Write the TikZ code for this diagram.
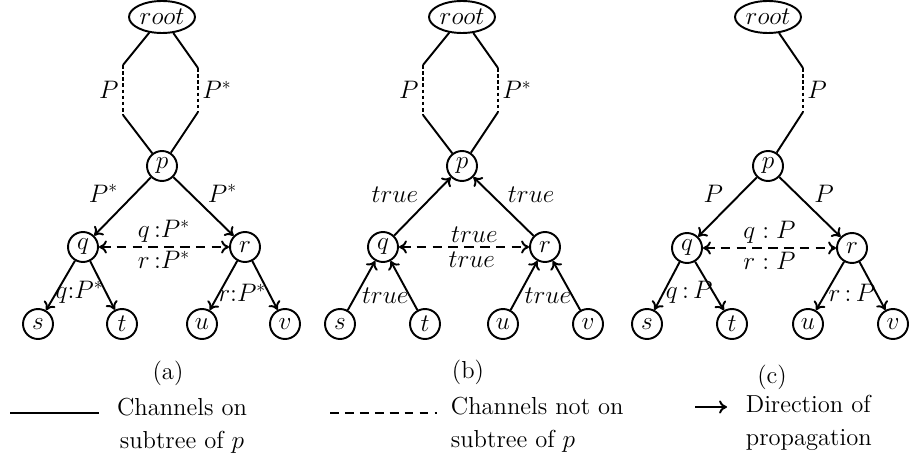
\documentclass[tikz,border=0pt]{standalone}
\usetikzlibrary{shapes.geometric,arrows.meta}
\begin{document}
\begin{tikzpicture}[x=0.02cm,y=-0.02cm,
  vert/.style={circle,draw,line width=1.1pt,minimum size=0.6cm,inner sep=0pt,font=\fontsize{14}{16}\selectfont},
  top/.style={ellipse,draw,line width=1.1pt,minimum width=1.32cm,minimum height=0.64cm,inner sep=0pt,font=\fontsize{14}{16}\selectfont},
  chan/.style={line width=1.1pt},
  gap/.style={line width=1.1pt,dash pattern=on 2pt off 1.5pt},
  side/.style={line width=1.1pt,dash pattern=on 5.5pt off 3.5pt},
  lbl/.style={font=\fontsize{14}{16}\selectfont,inner sep=2pt},
  legend/.style={font=\fontsize{14}{18.5}\selectfont,inner sep=2pt},
  >={To[length=4.5pt,width=7.5pt]}]
\useasboundingbox (0,0) rectangle (909,459);

% (a)
\node[top] (root-a) at (162,17) {$root$};
\node[vert] (p-a) at (162,166) {$p$};
\node[vert] (q-a) at (83,247) {$q$};
\node[vert] (r-a) at (245,247) {$r$};
\node[vert] (s-a) at (38,324) {$s$};
\node[vert] (t-a) at (122,324) {$t$};
\node[vert] (u-a) at (202,324) {$u$};
\node[vert] (v-a) at (285,324) {$v$};
\coordinate (l1-a) at (123,65); \coordinate (l2-a) at (123,115);
\coordinate (k1-a) at (198,68); \coordinate (k2-a) at (198,112);
\draw[chan] (root-a) -- (l1-a);
\draw[gap] (l1-a) -- node[lbl,left]{$P$} (l2-a);
\draw[chan] (l2-a) -- (p-a);
\draw[chan] (root-a) -- (k1-a);
\draw[gap] (k1-a) -- node[lbl,right]{$P^*$} (k2-a);
\draw[chan] (k2-a) -- (p-a);
\draw[chan,->] (p-a) -- node[lbl,above left]{$P^*$} (q-a);
\draw[chan,->] (p-a) -- node[lbl,above right]{$P^*$} (r-a);
\draw[side,<->] (q-a) -- node[lbl,above]{$q\,{:}P^*$} node[lbl,below]{$r\,{:}P^*$} (r-a);
\draw[chan,->] (q-a) -- (s-a);
\draw[chan,->] (q-a) -- node[lbl,left,pos=0.65,inner sep=1pt]{$q{:}P^*$} (t-a);
\draw[chan,->] (r-a) -- (u-a);
\draw[chan,->] (r-a) -- node[lbl,left,pos=0.65,inner sep=1pt]{$r{:}P^*$} (v-a);

% (b)
\node[top] (root-b) at (462,17) {$root$};
\node[vert] (p-b) at (462,166) {$p$};
\node[vert] (q-b) at (383,247) {$q$};
\node[vert] (r-b) at (545,247) {$r$};
\node[vert] (s-b) at (340,324) {$s$};
\node[vert] (t-b) at (425,324) {$t$};
\node[vert] (u-b) at (503,324) {$u$};
\node[vert] (v-b) at (588,324) {$v$};
\coordinate (l1-b) at (423,65); \coordinate (l2-b) at (423,115);
\coordinate (k1-b) at (498,68); \coordinate (k2-b) at (498,112);
\draw[chan] (root-b) -- (l1-b);
\draw[gap] (l1-b) -- node[lbl,left]{$P$} (l2-b);
\draw[chan] (l2-b) -- (p-b);
\draw[chan] (root-b) -- (k1-b);
\draw[gap] (k1-b) -- node[lbl,right]{$P^*$} (k2-b);
\draw[chan] (k2-b) -- (p-b);
\draw[chan,->] (q-b) -- node[lbl,above left]{$true$} (p-b);
\draw[chan,->] (r-b) -- node[lbl,above right]{$true$} (p-b);
\draw[side,<->] (q-b) -- node[lbl,above,pos=0.58]{$true$} node[lbl,below,pos=0.56]{$true$} (r-b);
\draw[chan,->] (s-b) -- (q-b);
\draw[chan,->] (t-b) -- node[lbl,left,pos=0.3,inner sep=0pt]{$true$} (q-b);
\draw[chan,->] (u-b) -- (r-b);
\draw[chan,->] (v-b) -- node[lbl,left,pos=0.3,inner sep=0pt]{$true$} (r-b);

% (c)
\node[top] (root-c) at (768,17) {$root$};
\node[vert] (p-c) at (768,166) {$p$};
\node[vert] (q-c) at (687,248) {$q$};
\node[vert] (r-c) at (852,248) {$r$};
\node[vert] (s-c) at (647,324) {$s$};
\node[vert] (t-c) at (732,324) {$t$};
\node[vert] (u-c) at (808,324) {$u$};
\node[vert] (v-c) at (893,324) {$v$};
\coordinate (k1-c) at (803,68); \coordinate (k2-c) at (803,112);
\draw[chan] (root-c) -- (k1-c);
\draw[gap] (k1-c) -- node[lbl,right]{$P$} (k2-c);
\draw[chan] (k2-c) -- (p-c);
\draw[chan,->] (p-c) -- node[lbl,above left]{$P$} (q-c);
\draw[chan,->] (p-c) -- node[lbl,above right]{$P$} (r-c);
\draw[side,<->] (q-c) -- node[lbl,above]{$q:P$} node[lbl,below]{$r:P$} (r-c);
\draw[chan,->] (q-c) -- (s-c);
\draw[chan,->] (q-c) -- node[lbl,left,pos=0.64,inner sep=0pt]{$q\,{:}\,P$} (t-c);
\draw[chan,->] (r-c) -- (u-c);
\draw[chan,->] (r-c) -- node[lbl,left,pos=0.64,inner sep=0pt]{$r\,{:}\,P$} (v-c);

% captions and legend
\node[legend] (cap-a) at (168,373) {(a)};
\node[legend] (cap-b) at (468,372) {(b)};
\node[legend] (cap-c) at (772,377) {(c)};
\coordinate (solid0) at (10,413); \coordinate (solid1) at (99,413);
\draw[chan] (solid0) -- (solid1);
\node[legend,align=center] (leg-on) at (182,426) {Channels on\\ subtree of $p$};
\coordinate (dash0) at (330,413); \coordinate (dash1) at (437,413);
\draw[chan,dash pattern=on 5pt off 3.5pt] (dash0) -- (dash1);
\node[legend,align=left,anchor=west] (leg-off) at (447,425) {Channels not on\\ subtree of $p$};
\coordinate (dir0) at (695,407); \coordinate (dir1) at (727,407);
\draw[chan,->] (dir0) -- (dir1);
\node[legend,align=left,anchor=west] (leg-dir) at (742,423) {Direction of\\ propagation};
\end{tikzpicture}
\end{document}
